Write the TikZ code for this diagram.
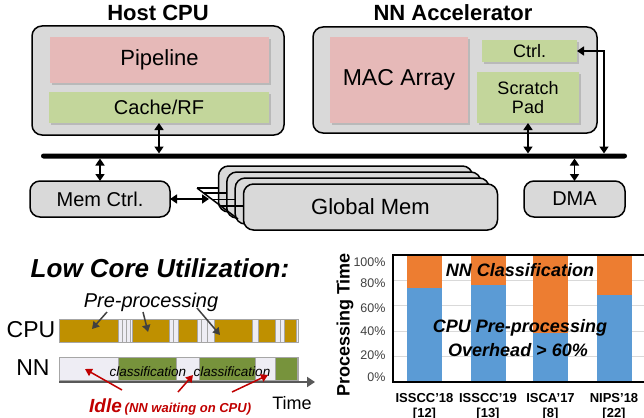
\documentclass[tikz,border=0pt]{standalone}
\usepackage{fontspec}
\setmainfont{Liberation Sans}
\usetikzlibrary{arrows.meta,shadows,calc}
\definecolor{outerfill}{HTML}{D9D9D9}
\definecolor{pinkfill}{HTML}{E6B9B8}
\definecolor{greenfill}{HTML}{C3D69B}
\definecolor{goldc}{HTML}{BF9000}
\definecolor{olivec}{HTML}{77933C}
\definecolor{idlefill}{HTML}{EEEDF4}
\definecolor{cblue}{HTML}{5B9BD5}
\definecolor{corange}{HTML}{ED7D31}
\definecolor{idlered}{HTML}{C00000}
\definecolor{gridc}{HTML}{D9D9D9}
\definecolor{bargray}{HTML}{A6A6A6}
\definecolor{arrgray}{HTML}{404040}
\definecolor{axgray}{HTML}{595959}
\newcommand\fsz[2]{\fontsize{#1}{#2}\selectfont}
\tikzset{
  outerbox/.style={draw=black, line width=1.5pt, fill=outerfill, rounded corners=10pt, inner sep=0pt, outer sep=0pt},
  innerbox/.style={inner sep=0pt, outer sep=0pt, drop shadow={shadow xshift=1.5pt, shadow yshift=-2pt, opacity=0.35}},
  darr/.style={line width=1.6pt, {Triangle[width=9pt,length=7pt]}-{Triangle[width=9pt,length=7pt]}},
  combline/.style={line width=1.5pt},
  barbg/.style={fill=idlefill, draw=bargray, line width=0.8pt, inner sep=0pt, outer sep=0pt},
  cpuseg/.style={fill=goldc, draw=bargray, line width=0.8pt},
  nnseg/.style={fill=olivec, draw=bargray, line width=0.8pt},
  grayarr/.style={line width=1.5pt, arrgray, -{Triangle[width=8pt,length=7pt]}},
  redarr/.style={line width=1.5pt, idlered, -{Triangle[width=8pt,length=7pt]}},
  ticklbl/.style={anchor=east, font=\fsz{12.5}{15}, text=arrgray},
  xlbl/.style={anchor=north, font=\bfseries\fsz{13}{15}, align=center},
  chartlbl/.style={font=\bfseries\itshape\fsz{18}{22}}
}
\begin{document}
\begin{tikzpicture}[x=1pt,y=-1pt]
\useasboundingbox (0,0) rectangle (644,417);

% ---------- top: host CPU and NN accelerator ----------
\node[font=\bfseries\fsz{22}{26}] (hosttitle) at (158,13) {Host CPU};
\node[font=\bfseries\fsz{22}{26}] (nntitle) at (453,13) {NN Accelerator};

\node[outerbox, minimum width=252pt, minimum height=109pt] (host) at (158,80.5) {};
\node[innerbox, fill=pinkfill, minimum width=219pt, minimum height=46pt, font=\fsz{22}{26}] (pipe) at (159.5,60) {Pipeline};
\node[innerbox, fill=greenfill, minimum width=220pt, minimum height=31pt, font=\fsz{20}{24}] (cache) at (159,107.5) {Cache/RF};

\node[outerbox, minimum width=284pt, minimum height=106pt] (nnacc) at (455,80) {};
\node[innerbox, fill=pinkfill, minimum width=138pt, minimum height=86pt, font=\fsz{23}{27}] (mac) at (399,80) {MAC Array};
\node[innerbox, fill=greenfill, minimum width=95pt, minimum height=22pt, font=\fsz{18}{20}] (ctrl) at (529.5,51) {Ctrl.};
\node[innerbox, fill=greenfill, minimum width=102pt, minimum height=51pt, font=\fsz{18}{19}, align=center] (scratch) at (528,97.5) {Scratch\\Pad};

% bus
\node[fill=black, minimum width=586pt, minimum height=5pt, inner sep=0pt, outer sep=0pt, rounded corners=2.5pt] (bus) at (334,156) {};

% memory side
\node[outerbox, minimum width=140pt, minimum height=36pt, font=\fsz{20}{24}] (memctrl) at (100,199) {Mem Ctrl.};
\node[outerbox, minimum width=101pt, minimum height=36pt, font=\fsz{20}{24}] (dma) at (574.5,199) {DMA};

\node[outerbox, minimum width=254pt, minimum height=46pt] (gm1) at (345.5,189) {};
\node[outerbox, minimum width=254pt, minimum height=46pt] (gm2) at (353.8,195) {};
\node[outerbox, minimum width=254pt, minimum height=46pt] (gm3) at (362.2,201) {};
\node[outerbox, minimum width=254pt, minimum height=46pt, font=\fsz{22}{26}] (gm) at (370.5,207) {Global Mem};

\coordinate (c1) at (197,188);
\coordinate (c2) at (203.6,193);
\coordinate (c3) at (212.2,199.5);
\coordinate (c4) at (220.8,206);
\coordinate (cend) at (238,219);
\coordinate (gmtip) at (209,199);
\draw[combline] (c1) -- (cend);
\draw[combline] (c1) -- (c1 -| gm1.west);
\draw[combline] (c2) -- (c2 -| gm2.west);
\draw[combline] (c3) -- (c3 -| gm3.west);
\draw[combline] (c4) -- (c4 -| gm.west);

% connectors
\coordinate (tap) at (604,51);
\draw[darr] (cache.south) -- (cache.south |- bus.north);
\draw[darr] (scratch.south) -- (scratch.south |- bus.north);
\draw[darr] (ctrl.east) -- (tap) -- (tap |- bus.north);
\draw[darr] (memctrl.north) -- (memctrl.north |- bus.south);
\draw[darr] (dma.north) -- (dma.north |- bus.south);
\draw[darr] (memctrl.east) -- (gmtip);

% ---------- bottom left: utilization timeline ----------
\node[font=\bfseries\itshape\fsz{26}{30}] (lowcore) at (160,268) {Low Core Utilization:};
\node[font=\itshape\fsz{20}{24}] (pre) at (151,302) {Pre-processing};
\node[font=\fsz{23}{27}] (cpulbl) at (31,330) {CPU};
\node[font=\fsz{23}{27}] (nnlbl) at (33,368) {NN};

\node[barbg, minimum width=239pt, minimum height=23pt] (cpubar) at (178.5,330.5) {};
\foreach \x in {122,126,130,173,201,207,280}
  \draw[bargray, line width=0.8pt] (\x,319) -- (\x,342);
\foreach \a/\b in {59/118,132/169,178/197,214/252,258/275,284/296}
  \draw[cpuseg] (\a,319) rectangle (\b,342);

\node[barbg, minimum width=239pt, minimum height=23pt] (nnbar) at (178.5,368.5) {};
\foreach \a/\b in {118/176,199/255,275/297}
  \draw[nnseg] (\a,357) rectangle (\b,380);

\coordinate (t0) at (59,382);
\coordinate (t1) at (315,382);
\draw[line width=2.5pt, axgray, -{Triangle[width=10pt,length=8pt]}] (t0) -- (t1);

\node[font=\itshape\fsz{13.5}{16}] (cls1) at (148,371.5) {classification};
\node[font=\itshape\fsz{13.5}{16}] (cls2) at (232,371.5) {classification};

\coordinate (p1s) at (107,312); \coordinate (p1e) at (92,329);
\coordinate (p2s) at (143,312); \coordinate (p2e) at (148,332);
\coordinate (p3s) at (197,308); \coordinate (p3e) at (220,335);
\draw[grayarr] (p1s) -- (p1e);
\draw[grayarr] (p2s) -- (p2e);
\draw[grayarr] (p3s) -- (p3e);

\node[anchor=west, text=idlered, font=\bfseries\itshape, inner sep=0pt] (idle) at (89,407)
  {{\fsz{19}{22}Idle} {\fsz{13}{16}(NN waiting on CPU)}};
\node[font=\fsz{18}{22}] (time) at (292,403) {Time};

\coordinate (r1s) at (122,390); \coordinate (r1e) at (85,369);
\coordinate (r2s) at (178,392); \coordinate (r2e) at (193,375);
\coordinate (r3s) at (232,392); \coordinate (r3e) at (268,375);
\draw[redarr] (r1s) -- (r1e);
\draw[redarr] (r2s) -- (r2e);
\draw[redarr] (r3s) -- (r3e);

% ---------- bottom right: chart ----------
\foreach \p in {20,40,60,80}
  \draw[gridc, line width=0.8pt] (393,{381.5-1.265*\p}) -- (644,{381.5-1.265*\p});
\foreach \c/\v in {424.5/74, 488/76, 550.5/38, 614/68} {
  \fill[cblue] ({\c-17.5},381.5) rectangle ({\c+17.5},{381.5-1.265*\v});
  \fill[corange] ({\c-17.5},{381.5-1.265*\v}) rectangle ({\c+17.5},255);
}
\draw[line width=1.2pt] (644,255) -- (393,255) -- (393,382) -- (644,382);

\node[ticklbl] (t100) at (389,262) {100\%};
\node[ticklbl] (t80) at (389,283) {80\%};
\node[ticklbl] (t60) at (389,308) {60\%};
\node[ticklbl] (t40) at (389,331) {40\%};
\node[ticklbl] (t20) at (389,355) {20\%};
\node[ticklbl] (t0l) at (389,377) {0\%};

\node[rotate=90, font=\bfseries\fsz{18}{22}] (ytitle) at (345,325) {Processing Time};

\node[xlbl] (x1) at (424.5,390) {ISSCC’18\\{[12]}};
\node[xlbl] (x2) at (488,390) {ISSCC’19\\{[13]}};
\node[xlbl] (x3) at (550.5,390) {ISCA’17\\{[8]}};
\node[xlbl] (x4) at (614,390) {NIPS’18\\{[22]}};

\node[chartlbl] (nncls) at (520,270) {NN Classification};
\node[chartlbl] (cpupre) at (520,328) {CPU Pre-processing};
\node[chartlbl] (overhead) at (518,350) {Overhead > 60\%};
\end{tikzpicture}
\end{document}
